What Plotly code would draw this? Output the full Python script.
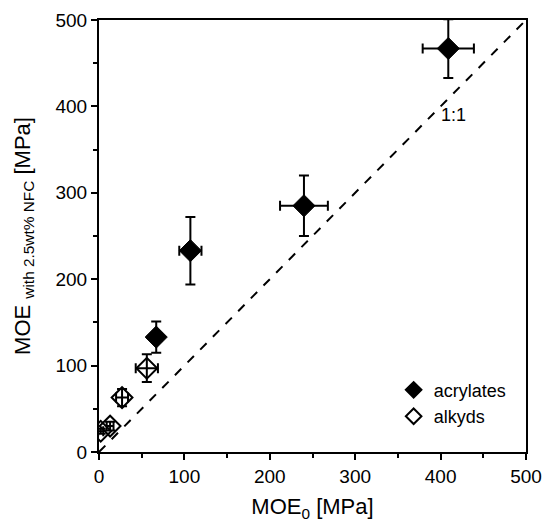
import plotly.graph_objects as go

# acrylates
acr_x = [409, 240, 107, 67]
acr_y = [467, 285, 233, 133]
acr_xerr = [30, 28, 13, 6]
acr_yerr = [34, 35, 39, 18]

# alkyds
alk_x = [56, 27, 13, 2]
alk_y = [97, 63, 30, 24]
alk_xerr = [13, 7, 4, 3]
alk_yerr = [16, 10, 5, 3]

line_x = [0, 500]
line_y = [0, 500]

font = "Liberation Sans, Arial, sans-serif"

fig = go.Figure()
fig.add_trace(go.Scatter(x=line_x, y=line_y, mode="lines",
                         line=dict(color="black", width=2, dash="dash"),
                         showlegend=False, hoverinfo="skip"))
fig.add_trace(go.Scatter(
    x=acr_x, y=acr_y, mode="markers", name="acrylates",
    marker=dict(symbol="diamond", size=17, color="black", line=dict(color="black", width=1)),
    error_x=dict(type="data", array=acr_xerr, color="black", thickness=2, width=5),
    error_y=dict(type="data", array=acr_yerr, color="black", thickness=2, width=5),
    cliponaxis=True))
fig.add_trace(go.Scatter(
    x=alk_x, y=alk_y, mode="markers", name="alkyds",
    marker=dict(symbol="diamond-open", size=16, color="black", line=dict(color="black", width=2)),
    error_x=dict(type="data", array=alk_xerr, color="black", thickness=2, width=5),
    error_y=dict(type="data", array=alk_yerr, color="black", thickness=2, width=5),
    cliponaxis=True))

fig.add_annotation(x=415, y=390, text="1:1", showarrow=False,
                   font=dict(family=font, size=18, color="black"))

axis_common = dict(
    range=[0, 500], dtick=100, ticks="outside", ticklen=6, tickwidth=1.5,
    tickcolor="black", showline=True, linecolor="black", linewidth=2,
    mirror=True, showgrid=False, zeroline=False, automargin=False,
    tickfont=dict(family=font, size=19, color="black"),
    minor=dict(dtick=50, ticks="outside", ticklen=4, tickwidth=1.5, tickcolor="black"),
)

fig.update_layout(
    width=542, height=522,
    margin=dict(l=99, r=16, t=20, b=70),
    paper_bgcolor="white", plot_bgcolor="white",
    font=dict(family=font, color="black"),
    xaxis=dict(**axis_common,
               title=dict(text="MOE<sub>0</sub> [MPa]", font=dict(family=font, size=22), standoff=14)),
    yaxis=dict(**axis_common,
               title=dict(text="MOE <sub>with 2.5wt% NFC</sub> [MPa]", font=dict(family=font, size=22), standoff=19)),
    legend=dict(x=0.69, y=0.186, xanchor="left", yanchor="top",
                bgcolor="rgba(0,0,0,0)", font=dict(family=font, size=18),
                tracegroupgap=0, itemsizing="constant"),
    showlegend=True,
)

fig.write_html("out.html")
